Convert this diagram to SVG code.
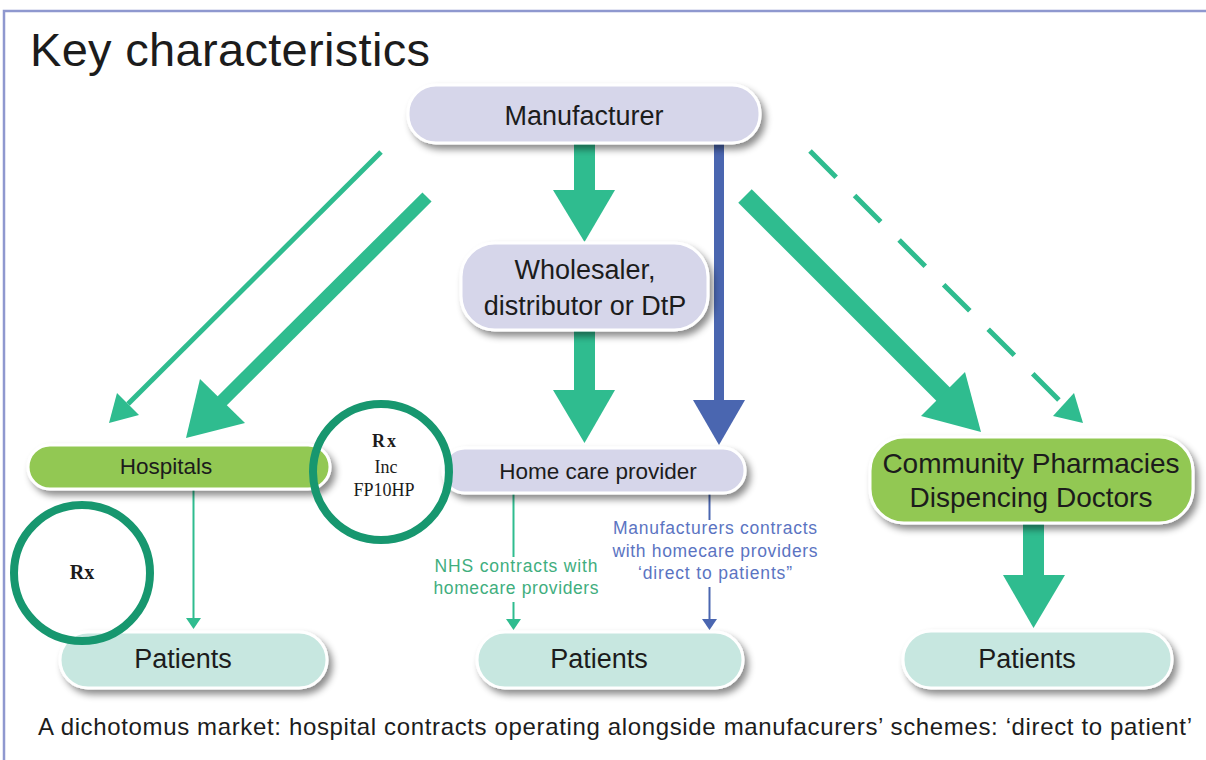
<svg xmlns="http://www.w3.org/2000/svg" width="1206" height="760" viewBox="0 0 1206 760">
<defs>
<filter id="sh" x="-10%" y="-30%" width="125%" height="170%">
<feDropShadow dx="4" dy="5" stdDeviation="3.5" flood-color="#000" flood-opacity="0.45"/>
</filter>
</defs>
<style>
text{font-family:"Liberation Sans",Arial,sans-serif;fill:#1c1c1c}
.lav{fill:#d6d6ea;stroke:#fff;stroke-width:3;filter:url(#sh)}
.grn{fill:#92c853;stroke:#fff;stroke-width:3;filter:url(#sh)}
.pat{fill:#c7e7e0;stroke:#fff;stroke-width:3;filter:url(#sh)}
.ring{fill:none;stroke:#17976f;stroke-width:8}
.rx{font-family:"Liberation Serif","Times New Roman",serif;font-weight:bold}
.ser{font-family:"Liberation Serif","Times New Roman",serif}
.g{stroke:#2fbc8f;fill:none}
.gf{fill:#2fbc8f}
.b{stroke:#4a66b0;fill:none}
.bf{fill:#4a66b0}
.nhs{fill:#3fae7e}
.man{fill:#5b74c2}
</style>
<rect x="0" y="0" width="1206" height="760" fill="#fff"/>
<path d="M4 760 V11 H1206" fill="none" stroke="#8f98cf" stroke-width="2.5"/>
<text x="30" y="66" font-size="47" textLength="400">Key characteristics</text>

<g id="connectors">
<line class="g" x1="381" y1="152" x2="128" y2="404" stroke-width="5"/>
<polygon class="gf" points="109,423 139,415 117,393"/>
<line class="g" x1="427" y1="197" x2="220" y2="403" stroke-width="13"/>
<polygon class="gf" points="186,438 245,423 200,379"/>
<rect class="gf" x="574" y="143" width="21" height="48"/>
<polygon class="gf" points="553,190 615,190 584.5,242"/>
<rect class="gf" x="574" y="330" width="21" height="61"/>
<polygon class="gf" points="553,390 615,390 584.5,443"/>
<rect class="bf" x="714" y="143" width="10" height="258"/>
<polygon class="bf" points="693,400 745,400 719,445"/>
<line class="g" x1="745" y1="196" x2="945" y2="396" stroke-width="19"/>
<polygon class="gf" points="981,432 921,416 965,372"/>
<line class="g" x1="810" y1="151" x2="1064" y2="405" stroke-width="5" stroke-dasharray="37 26"/>
<polygon class="gf" points="1083,423 1053,416 1074,393"/>
<line class="g" x1="193.5" y1="490" x2="193.5" y2="619" stroke-width="2"/>
<polygon class="gf" points="186,618 201,618 193.5,629"/>
<line class="g" x1="513.5" y1="493" x2="513.5" y2="557" stroke-width="2"/>
<line class="g" x1="513.5" y1="602" x2="513.5" y2="620" stroke-width="2"/>
<polygon class="gf" points="506,619 521,619 513.5,630"/>
<line class="b" x1="709.5" y1="493" x2="709.5" y2="520" stroke-width="2"/>
<line class="b" x1="709.5" y1="587" x2="709.5" y2="620" stroke-width="2"/>
<polygon class="bf" points="702,619 717,619 709.5,630"/>
<rect class="gf" x="1023" y="524" width="21" height="52"/>
<polygon class="gf" points="1003,575 1065,575 1033.5,628"/>
<g id="label-nhs" font-size="17.5" text-anchor="middle">
<text class="nhs" x="516" y="572" textLength="163">NHS contracts with</text>
<text class="nhs" x="516" y="594" textLength="165">homecare providers</text>
</g>
<g id="label-man" font-size="17.5" text-anchor="middle">
<text class="man" x="715" y="534" textLength="204">Manufacturers contracts</text>
<text class="man" x="715" y="557" textLength="205">with homecare providers</text>
<text class="man" x="715" y="579" textLength="154">‘direct to patients”</text>
</g>
</g>

<g id="manufacturer">
<rect class="lav" x="408" y="85" width="352" height="58" rx="28"/>
<text x="584" y="125" font-size="27" text-anchor="middle">Manufacturer</text>
</g>
<g id="wholesaler">
<rect class="lav" x="461" y="243" width="247" height="87" rx="34"/>
<text x="585" y="279" font-size="27" text-anchor="middle">Wholesaler,</text>
<text x="585" y="315" font-size="27" text-anchor="middle">distributor or DtP</text>
</g>
<g id="homecare">
<rect class="lav" x="443" y="448" width="302" height="45" rx="22"/>
<text x="598" y="479" font-size="22.5" text-anchor="middle">Home care provider</text>
</g>
<g id="hospitals">
<rect class="grn" x="28" y="445" width="302" height="44" rx="22"/>
<text x="166" y="474" font-size="22.5" text-anchor="middle">Hospitals</text>
</g>
<g id="community">
<rect class="grn" x="870" y="437" width="323" height="86" rx="34"/>
<text x="1031" y="473" font-size="28" text-anchor="middle">Community Pharmacies</text>
<text x="1031" y="507" font-size="28" text-anchor="middle">Dispencing Doctors</text>
</g>
<g id="patients-left">
<rect class="pat" x="60" y="632" width="267" height="56" rx="28"/>
<text x="183" y="668" font-size="27" text-anchor="middle">Patients</text>
</g>
<g id="patients-mid">
<rect class="pat" x="477" y="632" width="266" height="56" rx="28"/>
<text x="599" y="668" font-size="27" text-anchor="middle">Patients</text>
</g>
<g id="patients-right">
<rect class="pat" x="903" y="631" width="269" height="57" rx="28"/>
<text x="1027" y="668" font-size="27" text-anchor="middle">Patients</text>
</g>
<g id="rx-hospital">
<circle class="ring" cx="381" cy="472" r="68"/>
<text class="rx" x="385" y="447" font-size="18" text-anchor="middle" letter-spacing="2">Rx</text>
<text class="ser" x="386" y="473" font-size="18" text-anchor="middle">Inc</text>
<text class="ser" x="384" y="496" font-size="18" text-anchor="middle">FP10HP</text>
</g>
<g id="rx-left">
<circle class="ring" cx="82" cy="573" r="68"/>
<text class="rx" x="82" y="579" font-size="20" text-anchor="middle">Rx</text>
</g>
<text x="38" y="735" font-size="24" textLength="1154">A dichotomus market: hospital contracts operating alongside manufacurers’ schemes: ‘direct to patient’</text>
</svg>
